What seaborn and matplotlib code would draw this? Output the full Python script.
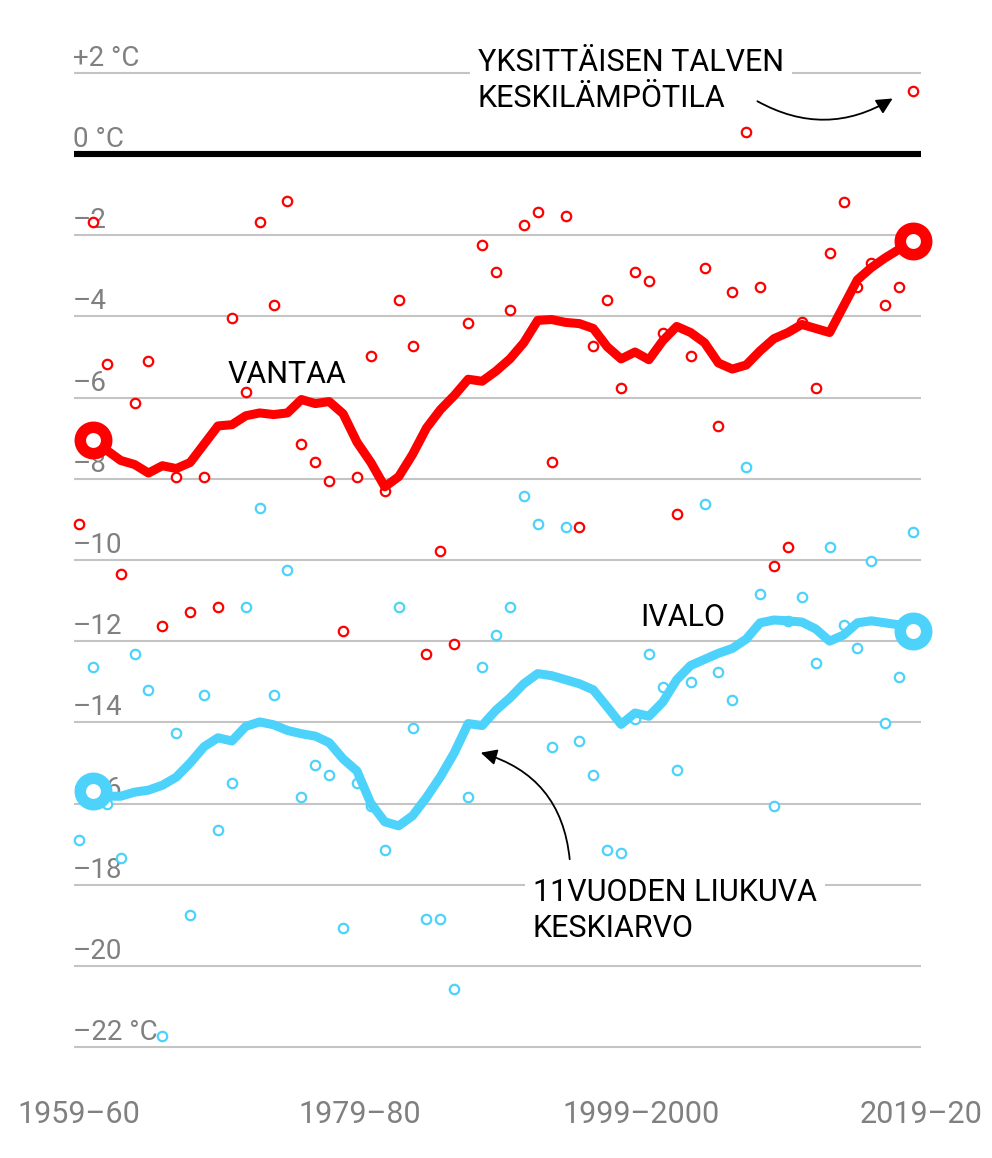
import numpy as np
import pandas as pd
import seaborn as sns
import matplotlib.pyplot as plt

# winters 1959-60 ... 2019-20, index 0..60
winter_idx = list(range(61))

# single winter mean temperature (°C)
vantaa = [-9.11, -1.67, -5.18, -10.34, -6.14, -5.10, -11.62, -7.97, -11.29, -7.97,
          -11.17, -4.05, -5.87, -1.67, -3.72, -1.17, -7.15, -7.60, -8.05, -11.74,
          -7.97, -4.99, -8.30, -3.60, -4.73, -12.31, -9.77, -12.06, -4.17, -2.24,
          -2.90, -3.84, -1.75, -1.43, -7.60, -1.54, -9.20, -4.73, -3.60, -5.76,
          -2.90, -3.14, -4.40, -8.87, -4.98, -2.82, -6.70, -3.39, 0.53, -3.27,
          -10.15, -9.69, -4.13, -5.76, -2.45, -1.18, -3.27, -2.68, -3.72, -3.27,
          1.55]
ivalo = [-16.90, -12.63, -16.00, -17.35, -12.31, -13.21, -21.72, -14.27, -18.74, -13.33,
         -16.65, -15.50, -11.17, -8.72, -13.33, -10.26, -15.83, -15.05, -15.30, -19.06,
         -15.50, -16.07, -17.14, -11.17, -14.15, -18.85, -18.85, -20.57, -15.83, -12.63,
         -11.86, -11.17, -8.42, -9.11, -14.60, -9.20, -14.47, -15.30, -17.14, -17.21,
         -13.92, -12.31, -13.13, -15.17, -13.00, -8.62, -12.76, -13.45, -7.72, -10.84,
         -16.06, -11.50, -10.92, -12.55, -9.69, -11.61, -12.18, -10.02, -14.02, -12.88,
         -9.32]

# 11-year moving average (index 1..60)
ma_idx = list(range(1, 61))
vantaa_ma = [-7.04, -7.30, -7.55, -7.65, -7.86, -7.68, -7.75, -7.60, -7.15, -6.70,
             -6.67, -6.45, -6.38, -6.42, -6.38, -6.05, -6.15, -6.10, -6.40, -7.10,
             -7.60, -8.20, -7.95, -7.40, -6.75, -6.30, -5.95, -5.55, -5.60, -5.35,
             -5.05, -4.65, -4.10, -4.08, -4.15, -4.18, -4.30, -4.75, -5.05, -4.88,
             -5.07, -4.60, -4.25, -4.40, -4.65, -5.15, -5.30, -5.20, -4.85, -4.55,
             -4.40, -4.20, -4.30, -4.40, -3.75, -3.10, -2.80, -2.56, -2.35, -2.14]
ivalo_ma = [-15.70, -15.82, -15.82, -15.72, -15.67, -15.55, -15.35, -15.00, -14.60, -14.38,
            -14.46, -14.10, -13.99, -14.06, -14.20, -14.28, -14.34, -14.50, -14.90, -15.20,
            -16.00, -16.45, -16.55, -16.30, -15.85, -15.34, -14.75, -14.03, -14.08, -13.70,
            -13.40, -13.05, -12.80, -12.85, -12.95, -13.05, -13.20, -13.62, -14.05, -13.77,
            -13.85, -13.50, -12.95, -12.60, -12.45, -12.30, -12.18, -11.95, -11.55, -11.48,
            -11.50, -11.53, -11.70, -12.00, -11.85, -11.55, -11.50, -11.55, -11.60, -11.75]

y_ticks = [2, 0, -2, -4, -6, -8, -10, -12, -14, -16, -18, -20, -22]
y_labels = ['+2 °C', '0 °C', '–2', '–4', '–6', '–8', '–10', '–12', '–14', '–16',
            '–18', '–20', '–22 °C']
x_ticks = [0, 20, 40, 60]
x_labels = ['1959–60', '1979–80', '1999–2000', '2019–20']

RED = '#ff0000'
BLUE = '#4dd2fc'
GRAY_TXT = '#808080'

sns.set_theme(style='white')
plt.rcParams['font.family'] = ['Roboto', 'DejaVu Sans']

points = pd.concat([
    pd.DataFrame({'talvi': winter_idx, 'temp': vantaa, 'asema': 'Vantaa'}),
    pd.DataFrame({'talvi': winter_idx, 'temp': ivalo, 'asema': 'Ivalo'}),
])
avg = pd.concat([
    pd.DataFrame({'talvi': ma_idx, 'temp': vantaa_ma, 'asema': 'Vantaa'}),
    pd.DataFrame({'talvi': ma_idx, 'temp': ivalo_ma, 'asema': 'Ivalo'}),
])
pal = {'Vantaa': RED, 'Ivalo': BLUE}

fig = plt.figure(figsize=(9.92, 11.58), dpi=100)
ax = fig.add_axes([0, 0, 1, 1])

# grid
for t, lab in zip(y_ticks, y_labels):
    if t == 0:
        ax.hlines(t, -0.36, 60.58, color='black', lw=4.4, zorder=1)
    else:
        ax.hlines(t, -0.36, 60.58, color='#c4c4c4', lw=1.5, zorder=1)
    ax.text(-0.43, t + 0.17, lab, ha='left', va='baseline', fontsize=20,
            color=GRAY_TXT, zorder=2)

for xt, lab in zip(x_ticks, x_labels):
    ax.text(xt + 0.01 * xt, -23.65, lab, ha='center', va='center', fontsize=22,
            color=GRAY_TXT)

# yearly points
for name, d in points.groupby('asema'):
    sns.scatterplot(data=d, x='talvi', y='temp', ax=ax, color='white',
                    edgecolor=pal[name], linewidth=1.6, s=46, zorder=3, legend=False)

# moving average lines
for name, d in avg.groupby('asema'):
    sns.lineplot(data=d, x='talvi', y='temp', ax=ax, color=pal[name], lw=6.5,
                 solid_capstyle='round', solid_joinstyle='round', zorder=4, legend=False)
    ax.plot([d['talvi'].iloc[0], d['talvi'].iloc[-1]], [d['temp'].iloc[0], d['temp'].iloc[-1]],
            ls='none', marker='o', ms=19, mfc='white', mec=pal[name], mew=8.3, zorder=5)

ax.set_xlim(-5.68, 65.68)
ax.set_ylim(-24.73, 3.79)
ax.axis('off')

# labels
ax.text(10.72, -5.64, 'VANTAA', fontsize=22, color='black', va='baseline', zorder=6)
ax.text(40.36, -11.63, 'IVALO', fontsize=22, color='black', va='baseline', zorder=6)
ax.text(28.7, 1.16, 'YKSITTÄISEN TALVEN\nKESKILÄMPÖTILA', fontsize=22, color='black',
        va='baseline', ha='left', linespacing=1.3, zorder=6,
        bbox=dict(facecolor='white', edgecolor='none', pad=6))
ax.text(32.66, -19.29, '11VUODEN LIUKUVA\nKESKIARVO', fontsize=22, color='black',
        va='baseline', ha='left', linespacing=1.3, zorder=6,
        bbox=dict(facecolor='white', edgecolor='none', pad=6))

ax.annotate('', xy=(58.7, 1.40), xytext=(48.63, 1.33),
            arrowprops=dict(arrowstyle='-|>', color='black', lw=1.3, mutation_scale=24,
                            connectionstyle='arc3,rad=0.3'), zorder=7)
ax.annotate('', xy=(28.71, -14.73), xytext=(35.32, -17.44),
            arrowprops=dict(arrowstyle='-|>', color='black', lw=1.3, mutation_scale=24,
                            connectionstyle='arc3,rad=0.35'), zorder=7)

fig.savefig('out.png', dpi=100)
